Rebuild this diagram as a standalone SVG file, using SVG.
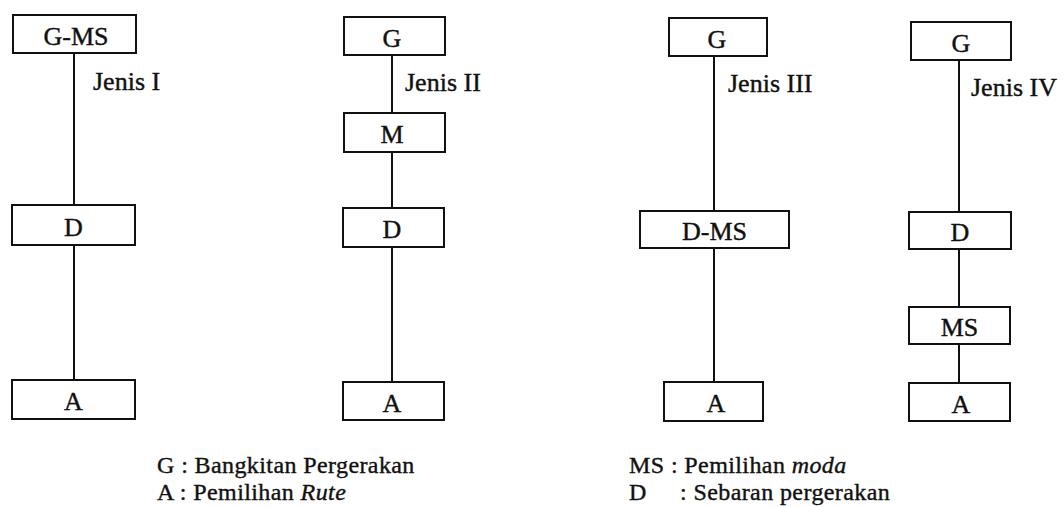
<svg xmlns="http://www.w3.org/2000/svg" width="1064" height="507" viewBox="0 0 1064 507">
<style>
.box{fill:#fff;stroke:#111;stroke-width:2}
text{font-family:'Liberation Serif','Times New Roman',Tinos,'DejaVu Serif',serif;fill:#111;stroke:#111;stroke-width:0.4}
.lbl{font-size:26px;text-anchor:middle}
.t{font-size:26px}
.lg{font-size:24px;letter-spacing:0.4px}
.c{stroke:#111;stroke-width:2;fill:none}
</style>
<rect width="1064" height="507" fill="#fff"/>
<g id="connectors">
<line class="c" x1="74" y1="53" x2="74" y2="205"/>
<line class="c" x1="74" y1="245" x2="74" y2="380"/>
<line class="c" x1="392" y1="55" x2="392" y2="113"/>
<line class="c" x1="392" y1="152" x2="392" y2="208"/>
<line class="c" x1="392" y1="247" x2="392" y2="382"/>
<line class="c" x1="714" y1="56" x2="714" y2="211"/>
<line class="c" x1="714" y1="248" x2="714" y2="382"/>
<line class="c" x1="959" y1="60" x2="959" y2="212"/>
<line class="c" x1="959" y1="249" x2="959" y2="307"/>
<line class="c" x1="959" y1="344" x2="959" y2="383"/>
</g>
<g id="j1-gms"><rect class="box" x="13" y="15" width="123" height="38"/><text class="lbl" x="76" y="45">G-MS</text></g>
<g id="j1-d"><rect class="box" x="12" y="205" width="123" height="40"/><text class="lbl" x="73.5" y="236">D</text></g>
<g id="j1-a"><rect class="box" x="12" y="380" width="123" height="39"/><text class="lbl" x="73.5" y="410">A</text></g>
<g id="j1-label"><text class="t" x="93" y="90">Jenis I</text></g>

<g id="j2-g"><rect class="box" x="344" y="17" width="101" height="38"/><text class="lbl" x="392" y="47">G</text></g>
<g id="j2-m"><rect class="box" x="344" y="113" width="101" height="39"/><text class="lbl" x="392" y="143">M</text></g>
<g id="j2-d"><rect class="box" x="343" y="208" width="101" height="39"/><text class="lbl" x="392" y="238">D</text></g>
<g id="j2-a"><rect class="box" x="343" y="382" width="101" height="38"/><text class="lbl" x="392" y="412">A</text></g>
<g id="j2-label"><text class="t" x="405" y="91">Jenis II</text></g>

<g id="j3-g"><rect class="box" x="669" y="18" width="98" height="38"/><text class="lbl" x="717" y="48">G</text></g>
<g id="j3-dms"><rect class="box" x="640" y="211" width="149" height="37"/><text class="lbl" x="714.5" y="240">D-MS</text></g>
<g id="j3-a"><rect class="box" x="664" y="382" width="99" height="39"/><text class="lbl" x="716" y="412">A</text></g>
<g id="j3-label"><text class="t" x="728" y="92">Jenis III</text></g>

<g id="j4-g"><rect class="box" x="911" y="22" width="100" height="38"/><text class="lbl" x="961" y="52">G</text></g>
<g id="j4-d"><rect class="box" x="909" y="212" width="102" height="37"/><text class="lbl" x="960" y="241">D</text></g>
<g id="j4-ms"><rect class="box" x="909" y="307" width="101" height="37"/><text class="lbl" x="959.5" y="336">MS</text></g>
<g id="j4-a"><rect class="box" x="909" y="383" width="101" height="38"/><text class="lbl" x="961" y="413">A</text></g>
<g id="j4-label"><text class="t" x="971" y="96">Jenis IV</text></g>

<g id="legend">
<text class="lg" x="157" y="473">G : Bangkitan Pergerakan</text>
<text class="lg" x="157" y="500">A : Pemilihan <tspan font-style="italic">Rute</tspan></text>
<text class="lg" x="629" y="473">MS : Pemilihan <tspan font-style="italic">moda</tspan></text>
<text class="lg" x="629" y="500">D</text>
<text class="lg" x="680" y="500">: Sebaran pergerakan</text>
</g>
</svg>
